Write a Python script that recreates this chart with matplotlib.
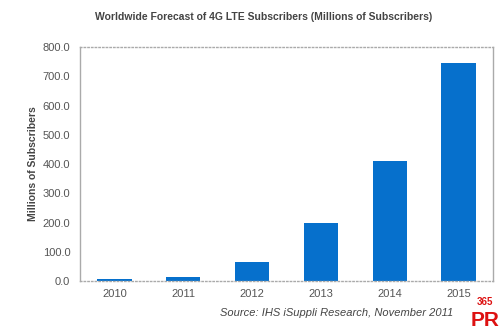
import matplotlib
matplotlib.use('Agg')
import matplotlib.pyplot as plt

# Data
years = ['2010', '2011', '2012', '2013', '2014', '2015']
subscribers = [6, 14, 65, 198, 410, 745]
y_ticks = [0, 100, 200, 300, 400, 500, 600, 700, 800]

plt.rcParams['font.family'] = ['Liberation Sans', 'DejaVu Sans']

fig = plt.figure(figsize=(5, 3.3), dpi=100)
ax = fig.add_axes([0.16, 0.1485, 0.826, 0.709])

ax.bar(range(len(years)), subscribers, width=0.5, color='#0670CC')
ax.set_xlim(-0.5, len(years) - 0.5)
ax.set_ylim(0, 800)
ax.set_yticks(y_ticks)
ax.set_yticklabels(['%.1f' % v for v in y_ticks])
ax.set_xticks(range(len(years)))
ax.set_xticklabels(years)
ax.tick_params(length=0, labelsize=8, colors='#555555', pad=6)
ax.tick_params(axis='y', pad=7)

for side in ['left', 'right', 'top', 'bottom']:
    ax.spines[side].set_color('#aaaaaa')
    ax.spines[side].set_linewidth(1)
ax.spines['top'].set_linestyle(':')
ax.spines['bottom'].set_linestyle(':')

ax.set_ylabel('Millions of Subscribers', fontsize=7.5, fontweight='bold',
              color='#444444')
ax.yaxis.set_label_coords(-0.102, 0.5)

fig.text(0.528, 0.948, 'Worldwide Forecast of 4G LTE Subscribers (Millions of Subscribers)',
         ha='center', va='center', fontsize=7.5, fontweight='bold', color='#444444')
fig.text(0.674, 0.052, 'Source: IHS iSuppli Research, November 2011',
         ha='center', va='center', fontsize=8, style='italic', color='#444444')

# logo in the corner
fig.text(0.97, 0.085, '365', ha='center', va='center', fontsize=7,
         fontweight='bold', color='#dd1111')
fig.text(0.97, 0.03, 'PR', ha='center', va='center', fontsize=15,
         fontweight='bold', color='#dd1111')

fig.savefig('out.png', dpi=100)
